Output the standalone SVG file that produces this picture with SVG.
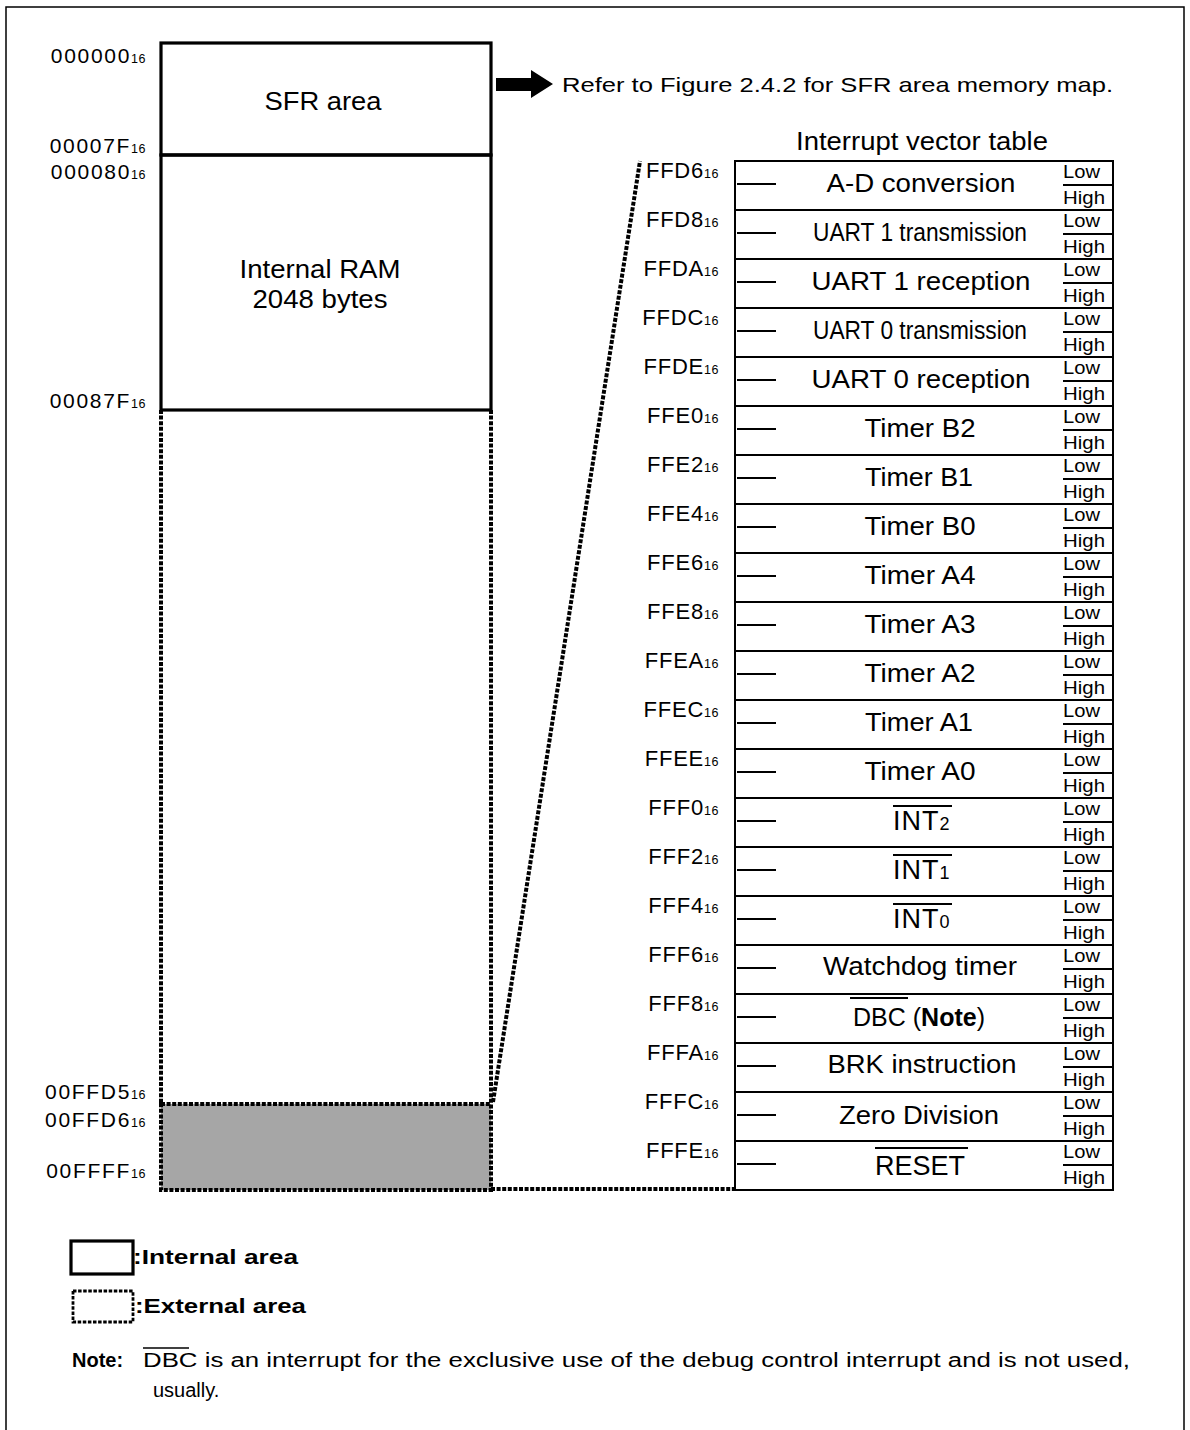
<svg xmlns="http://www.w3.org/2000/svg" width="1190" height="1430" viewBox="0 0 1190 1430">
<style>
text{font-family:"Liberation Sans",Arial,Helvetica,sans-serif;fill:#000}
.solid{fill:none;stroke:#000;stroke-width:3.2}
.ext{fill:none;stroke:#000;stroke-width:4;stroke-dasharray:4 1.6}
.tb{fill:none;stroke:#000;stroke-width:2}
.ln{stroke:#000;stroke-width:2}
.addr{font-size:22px;letter-spacing:0.8px;text-anchor:end}
.maddr{font-size:21px;letter-spacing:1.7px;text-anchor:end}
.sub{font-size:12.5px;letter-spacing:0.5px}
.nm{font-size:25px;text-anchor:middle}
.lh{font-size:18px}
.big{font-size:25px;text-anchor:middle}
.leg{font-size:21px;font-weight:bold}
.note{font-size:20px}
</style>
<rect x="6" y="7" width="1178" height="1460" fill="none" stroke="#000" stroke-width="1.5"/>

<g id="memory-map">
  <g id="sfr-area">
    <rect x="161" y="43" width="330" height="112" class="solid"/>
    <text class="big" x="323" y="110" textLength="117" lengthAdjust="spacingAndGlyphs">SFR area</text>
  </g>
  <g id="internal-ram">
    <rect x="161" y="155" width="330" height="255" class="solid"/>
    <text class="big" x="320" y="278" textLength="161" lengthAdjust="spacingAndGlyphs">Internal RAM</text>
    <text class="big" x="320" y="308" textLength="135" lengthAdjust="spacingAndGlyphs">2048 bytes</text>
  </g>
  <g id="external-area">
    <path d="M161,410 V1104 M491,410 V1104" class="ext"/>
  </g>
  <g id="vector-area">
    <rect x="161" y="1104" width="330" height="86" fill="#a6a6a6"/>
    <rect x="161" y="1104" width="330" height="86" class="ext"/>
  </g>
  <g id="memory-addresses">
    <text class="maddr" x="146" y="63">000000<tspan class="sub">16</tspan></text>
    <text class="maddr" x="146" y="153">00007F<tspan class="sub">16</tspan></text>
    <text class="maddr" x="146" y="179">000080<tspan class="sub">16</tspan></text>
    <text class="maddr" x="146" y="408">00087F<tspan class="sub">16</tspan></text>
    <text class="maddr" x="146" y="1099">00FFD5<tspan class="sub">16</tspan></text>
    <text class="maddr" x="146" y="1127">00FFD6<tspan class="sub">16</tspan></text>
    <text class="maddr" x="146" y="1178">00FFFF<tspan class="sub">16</tspan></text>
  </g>
</g>

<g id="connectors">
  <path d="M493,1102 L640,161" class="ext"/>
  <path d="M491,1189 H735" class="ext"/>
  <path d="M496,78 H531 V70 L553,84 L531,98 V91 H496 Z" fill="#000"/>
</g>

<g id="sfr-note">
  <text x="562" y="92" font-size="21" textLength="551" lengthAdjust="spacingAndGlyphs">Refer to Figure 2.4.2 for SFR area memory map.</text>
</g>

<g id="vector-table">
  <text x="922" y="150" font-size="25" text-anchor="middle" textLength="252" lengthAdjust="spacingAndGlyphs">Interrupt vector table</text>
  <rect x="735" y="161" width="378" height="1029" class="tb"/>
  <g id="row-lines">
    <path class="ln" d="M735,210H1113M735,259H1113M735,308H1113M735,357H1113M735,406H1113M735,455H1113M735,504H1113M735,553H1113M735,602H1113M735,651H1113M735,700H1113M735,749H1113M735,798H1113M735,847H1113M735,896H1113M735,945H1113M735,994H1113M735,1043H1113M735,1092H1113M735,1141H1113"/>
    <path class="ln" d="M737,184H776M737,233H776M737,282H776M737,331H776M737,380H776M737,429H776M737,478H776M737,527H776M737,576H776M737,625H776M737,674H776M737,723H776M737,772H776M737,821H776M737,870H776M737,919H776M737,968H776M737,1017H776M737,1066H776M737,1115H776M737,1164H776"/>
    <path class="ln" d="M1063,185H1113M1063,234H1113M1063,283H1113M1063,332H1113M1063,381H1113M1063,430H1113M1063,479H1113M1063,528H1113M1063,577H1113M1063,626H1113M1063,675H1113M1063,724H1113M1063,773H1113M1063,822H1113M1063,871H1113M1063,920H1113M1063,969H1113M1063,1018H1113M1063,1067H1113M1063,1116H1113M1063,1165H1113"/>
  </g>
  <g id="low-high">
    <text class="lh" x="1063" y="178" textLength="37" lengthAdjust="spacingAndGlyphs">Low</text><text class="lh" x="1063" y="204" textLength="42" lengthAdjust="spacingAndGlyphs">High</text>
    <text class="lh" x="1063" y="227" textLength="37" lengthAdjust="spacingAndGlyphs">Low</text><text class="lh" x="1063" y="253" textLength="42" lengthAdjust="spacingAndGlyphs">High</text>
    <text class="lh" x="1063" y="276" textLength="37" lengthAdjust="spacingAndGlyphs">Low</text><text class="lh" x="1063" y="302" textLength="42" lengthAdjust="spacingAndGlyphs">High</text>
    <text class="lh" x="1063" y="325" textLength="37" lengthAdjust="spacingAndGlyphs">Low</text><text class="lh" x="1063" y="351" textLength="42" lengthAdjust="spacingAndGlyphs">High</text>
    <text class="lh" x="1063" y="374" textLength="37" lengthAdjust="spacingAndGlyphs">Low</text><text class="lh" x="1063" y="400" textLength="42" lengthAdjust="spacingAndGlyphs">High</text>
    <text class="lh" x="1063" y="423" textLength="37" lengthAdjust="spacingAndGlyphs">Low</text><text class="lh" x="1063" y="449" textLength="42" lengthAdjust="spacingAndGlyphs">High</text>
    <text class="lh" x="1063" y="472" textLength="37" lengthAdjust="spacingAndGlyphs">Low</text><text class="lh" x="1063" y="498" textLength="42" lengthAdjust="spacingAndGlyphs">High</text>
    <text class="lh" x="1063" y="521" textLength="37" lengthAdjust="spacingAndGlyphs">Low</text><text class="lh" x="1063" y="547" textLength="42" lengthAdjust="spacingAndGlyphs">High</text>
    <text class="lh" x="1063" y="570" textLength="37" lengthAdjust="spacingAndGlyphs">Low</text><text class="lh" x="1063" y="596" textLength="42" lengthAdjust="spacingAndGlyphs">High</text>
    <text class="lh" x="1063" y="619" textLength="37" lengthAdjust="spacingAndGlyphs">Low</text><text class="lh" x="1063" y="645" textLength="42" lengthAdjust="spacingAndGlyphs">High</text>
    <text class="lh" x="1063" y="668" textLength="37" lengthAdjust="spacingAndGlyphs">Low</text><text class="lh" x="1063" y="694" textLength="42" lengthAdjust="spacingAndGlyphs">High</text>
    <text class="lh" x="1063" y="717" textLength="37" lengthAdjust="spacingAndGlyphs">Low</text><text class="lh" x="1063" y="743" textLength="42" lengthAdjust="spacingAndGlyphs">High</text>
    <text class="lh" x="1063" y="766" textLength="37" lengthAdjust="spacingAndGlyphs">Low</text><text class="lh" x="1063" y="792" textLength="42" lengthAdjust="spacingAndGlyphs">High</text>
    <text class="lh" x="1063" y="815" textLength="37" lengthAdjust="spacingAndGlyphs">Low</text><text class="lh" x="1063" y="841" textLength="42" lengthAdjust="spacingAndGlyphs">High</text>
    <text class="lh" x="1063" y="864" textLength="37" lengthAdjust="spacingAndGlyphs">Low</text><text class="lh" x="1063" y="890" textLength="42" lengthAdjust="spacingAndGlyphs">High</text>
    <text class="lh" x="1063" y="913" textLength="37" lengthAdjust="spacingAndGlyphs">Low</text><text class="lh" x="1063" y="939" textLength="42" lengthAdjust="spacingAndGlyphs">High</text>
    <text class="lh" x="1063" y="962" textLength="37" lengthAdjust="spacingAndGlyphs">Low</text><text class="lh" x="1063" y="988" textLength="42" lengthAdjust="spacingAndGlyphs">High</text>
    <text class="lh" x="1063" y="1011" textLength="37" lengthAdjust="spacingAndGlyphs">Low</text><text class="lh" x="1063" y="1037" textLength="42" lengthAdjust="spacingAndGlyphs">High</text>
    <text class="lh" x="1063" y="1060" textLength="37" lengthAdjust="spacingAndGlyphs">Low</text><text class="lh" x="1063" y="1086" textLength="42" lengthAdjust="spacingAndGlyphs">High</text>
    <text class="lh" x="1063" y="1109" textLength="37" lengthAdjust="spacingAndGlyphs">Low</text><text class="lh" x="1063" y="1135" textLength="42" lengthAdjust="spacingAndGlyphs">High</text>
    <text class="lh" x="1063" y="1158" textLength="37" lengthAdjust="spacingAndGlyphs">Low</text><text class="lh" x="1063" y="1184" textLength="42" lengthAdjust="spacingAndGlyphs">High</text>
  </g>
  <g id="vector-addresses">
    <text class="addr" x="719" y="178">FFD6<tspan class="sub">16</tspan></text>
    <text class="addr" x="719" y="227">FFD8<tspan class="sub">16</tspan></text>
    <text class="addr" x="719" y="276">FFDA<tspan class="sub">16</tspan></text>
    <text class="addr" x="719" y="325">FFDC<tspan class="sub">16</tspan></text>
    <text class="addr" x="719" y="374">FFDE<tspan class="sub">16</tspan></text>
    <text class="addr" x="719" y="423">FFE0<tspan class="sub">16</tspan></text>
    <text class="addr" x="719" y="472">FFE2<tspan class="sub">16</tspan></text>
    <text class="addr" x="719" y="521">FFE4<tspan class="sub">16</tspan></text>
    <text class="addr" x="719" y="570">FFE6<tspan class="sub">16</tspan></text>
    <text class="addr" x="719" y="619">FFE8<tspan class="sub">16</tspan></text>
    <text class="addr" x="719" y="668">FFEA<tspan class="sub">16</tspan></text>
    <text class="addr" x="719" y="717">FFEC<tspan class="sub">16</tspan></text>
    <text class="addr" x="719" y="766">FFEE<tspan class="sub">16</tspan></text>
    <text class="addr" x="719" y="815">FFF0<tspan class="sub">16</tspan></text>
    <text class="addr" x="719" y="864">FFF2<tspan class="sub">16</tspan></text>
    <text class="addr" x="719" y="913">FFF4<tspan class="sub">16</tspan></text>
    <text class="addr" x="719" y="962">FFF6<tspan class="sub">16</tspan></text>
    <text class="addr" x="719" y="1011">FFF8<tspan class="sub">16</tspan></text>
    <text class="addr" x="719" y="1060">FFFA<tspan class="sub">16</tspan></text>
    <text class="addr" x="719" y="1109">FFFC<tspan class="sub">16</tspan></text>
    <text class="addr" x="719" y="1158">FFFE<tspan class="sub">16</tspan></text>
  </g>
  <g id="vector-names">
    <text class="nm" x="921" y="192" textLength="189" lengthAdjust="spacingAndGlyphs">A-D conversion</text>
    <text class="nm" x="920" y="241" textLength="214" lengthAdjust="spacingAndGlyphs">UART 1 transmission</text>
    <text class="nm" x="921" y="290" textLength="219" lengthAdjust="spacingAndGlyphs">UART 1 reception</text>
    <text class="nm" x="920" y="339" textLength="214" lengthAdjust="spacingAndGlyphs">UART 0 transmission</text>
    <text class="nm" x="921" y="388" textLength="219" lengthAdjust="spacingAndGlyphs">UART 0 reception</text>
    <text class="nm" x="920" y="437" textLength="111" lengthAdjust="spacingAndGlyphs">Timer B2</text>
    <text class="nm" x="919" y="486" textLength="108" lengthAdjust="spacingAndGlyphs">Timer B1</text>
    <text class="nm" x="920" y="535" textLength="111" lengthAdjust="spacingAndGlyphs">Timer B0</text>
    <text class="nm" x="920" y="584" textLength="111" lengthAdjust="spacingAndGlyphs">Timer A4</text>
    <text class="nm" x="920" y="633" textLength="111" lengthAdjust="spacingAndGlyphs">Timer A3</text>
    <text class="nm" x="920" y="682" textLength="111" lengthAdjust="spacingAndGlyphs">Timer A2</text>
    <text class="nm" x="919" y="731" textLength="108" lengthAdjust="spacingAndGlyphs">Timer A1</text>
    <text class="nm" x="920" y="780" textLength="111" lengthAdjust="spacingAndGlyphs">Timer A0</text>
    <text x="893" y="830" font-size="27" letter-spacing="1">INT<tspan font-size="18">2</tspan></text>
    <text x="893" y="879" font-size="27" letter-spacing="1">INT<tspan font-size="18">1</tspan></text>
    <text x="893" y="928" font-size="27" letter-spacing="1">INT<tspan font-size="18">0</tspan></text>
    <text class="nm" x="920" y="975" textLength="194" lengthAdjust="spacingAndGlyphs">Watchdog timer</text>
    <text class="nm" x="919" y="1026" font-size="26">DBC (<tspan font-weight="bold">Note</tspan>)</text>
    <text class="nm" x="922" y="1073" textLength="189" lengthAdjust="spacingAndGlyphs">BRK instruction</text>
    <text class="nm" x="919" y="1124" textLength="160" lengthAdjust="spacingAndGlyphs">Zero Division</text>
    <text x="875" y="1175" font-size="27">RESET</text>
    <path class="ln" d="M893,806H952M893,855H952M893,904H952M850,998H908M875,1148H968"/>
  </g>
</g>

<g id="legend">
  <g id="legend-internal">
    <rect x="71" y="1241" width="62" height="33" class="solid"/>
    <text class="leg" x="133" y="1264" textLength="165" lengthAdjust="spacingAndGlyphs">:Internal area</text>
  </g>
  <g id="legend-external">
    <rect x="73" y="1291" width="60" height="31" fill="none" stroke="#000" stroke-width="2.8" stroke-dasharray="3.5 1.6"/>
    <text class="leg" x="135" y="1313" textLength="171" lengthAdjust="spacingAndGlyphs">:External area</text>
  </g>
</g>

<g id="footnote">
  <text class="note" x="72" y="1367"><tspan font-weight="bold">Note:</tspan></text>
  <text class="note" x="143" y="1367" textLength="987" lengthAdjust="spacingAndGlyphs">DBC is an interrupt for the exclusive use of the debug control interrupt and is not used,</text>
  <path d="M143,1348H189" stroke="#000" stroke-width="1.5"/>
  <text class="note" x="153" y="1397">usually.</text>
</g>
</svg>
